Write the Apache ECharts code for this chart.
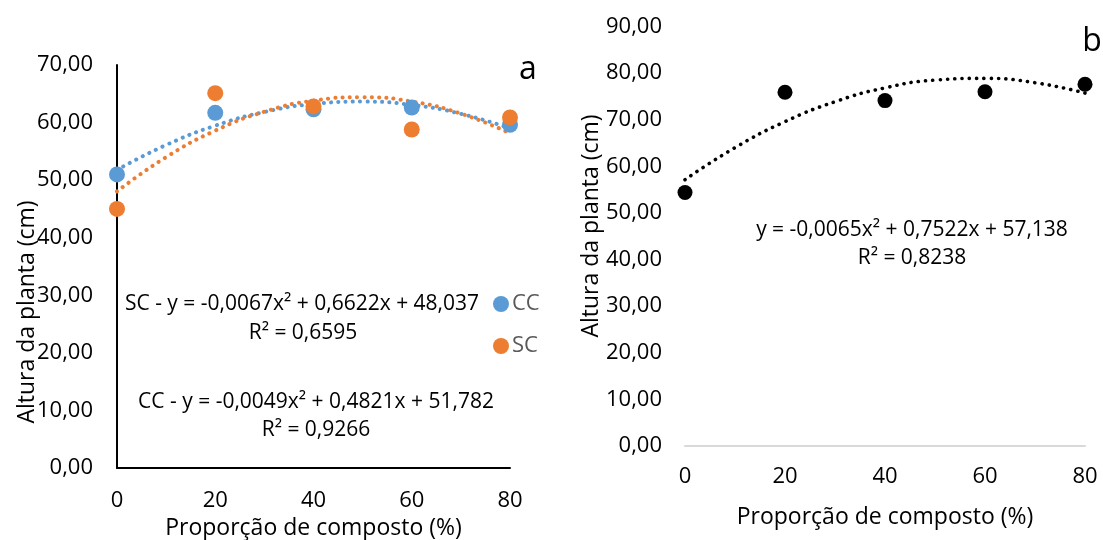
<!DOCTYPE html>
<html>
<head>
<meta charset="utf-8">
<script src="https://cdn.jsdelivr.net/npm/echarts@6/dist/echarts.min.js"></script>
<style>
html,body{margin:0;padding:0;background:#fff;}
#chart{width:1103px;height:540px;}
</style>
</head>
<body>
<div id="chart"></div>
<script>
// ---- data ----
const xCategories = [0, 20, 40, 60, 80];
const ccValues = [51.0, 61.7, 62.3, 62.6, 59.6];
const scValues = [45.0, 65.1, 62.8, 58.8, 60.9];
const bValues = [54.4, 75.9, 74.1, 76.0, 77.6];
// trend lines (polynomial fits as drawn), sampled every 10 %
const trendX = [0, 10, 20, 30, 40, 50, 60, 70, 80];
const ccTrend = [51.78, 56.11, 59.46, 61.83, 63.22, 63.64, 63.07, 61.52, 58.99];
const scTrend = [48.04, 53.99, 58.60, 61.88, 63.81, 64.40, 63.65, 61.56, 58.14];
const bTrend = [57.14, 64.01, 69.58, 73.86, 76.83, 78.50, 78.87, 77.94, 75.72];
const eqA1 = 'SC - y = -0,0067x² + 0,6622x + 48,037';
const r2A1 = 'R² = 0,6595';
const eqA2 = 'CC - y = -0,0049x² + 0,4821x + 51,782';
const r2A2 = 'R² = 0,9266';
const eqB = 'y = -0,0065x² + 0,7522x + 57,138';
const r2B = 'R² = 0,8238';
const yName = 'Altura da planta (cm)';
const xName = 'Proporção de composto (%)';

const FONT = '"Open Sans", "Noto Sans", sans-serif';
const BLUE = '#5B9BD5', ORANGE = '#ED7D31';

const pairs = (xs, ys) => xs.map((x, i) => [x, ys[i]]);
const fmt = v => v.toFixed(2).replace('.', ',');

const chart = echarts.init(document.getElementById('chart'), null, {renderer: 'canvas'});

const dotted = (color, w) => ({color: color, width: w, type: [0.1, 7.2], cap: 'round'});

chart.setOption({
  animation: false,
  textStyle: {fontFamily: FONT},
  grid: [
    {left: 117, top: 65, width: 393, height: 403, containLabel: false, outerBoundsMode: 'none'},
    {left: 685, top: 26.5, width: 400, height: 419.5, containLabel: false, outerBoundsMode: 'none'}
  ],
  xAxis: [
    {gridIndex: 0, type: 'value', min: 0, max: 80, interval: 20,
     axisLine: {show: true, onZero: false, lineStyle: {color: '#000', width: 2}},
     axisTick: {show: false}, splitLine: {show: false},
     axisLabel: {margin: 22, fontSize: 22, color: '#000', fontFamily: FONT},
     name: xName, nameLocation: 'middle', nameGap: 47,
     nameTextStyle: {fontSize: 23, color: '#000', fontFamily: FONT}},
    {gridIndex: 1, type: 'value', min: 0, max: 80, interval: 20,
     axisLine: {show: true, onZero: false, lineStyle: {color: '#D9D9D9', width: 2}},
     axisTick: {show: false}, splitLine: {show: false},
     axisLabel: {margin: 20, fontSize: 22, color: '#000', fontFamily: FONT},
     name: xName, nameLocation: 'middle', nameGap: 60,
     nameTextStyle: {fontSize: 23, color: '#000', fontFamily: FONT}}
  ],
  yAxis: [
    {gridIndex: 0, type: 'value', min: 0, max: 70, interval: 10,
     axisLine: {show: true, onZero: false, lineStyle: {color: '#000', width: 2}},
     axisTick: {show: false}, splitLine: {show: false},
     axisLabel: {margin: 24, fontSize: 22, color: '#000', fontFamily: FONT, formatter: fmt}},
    {gridIndex: 1, type: 'value', min: 0, max: 90, interval: 10,
     axisLine: {show: false}, axisTick: {show: false}, splitLine: {show: false},
     axisLabel: {margin: 23, fontSize: 22, color: '#000', fontFamily: FONT, formatter: fmt}}
  ],
  legend: {
    left: 488, top: 288, orient: 'vertical', itemGap: 20,
    itemWidth: 16, itemHeight: 16, icon: 'circle',
    textStyle: {fontSize: 22, color: '#595959', fontFamily: FONT, padding: [0, 0, 0, -2]},
    data: ['CC', 'SC']
  },
  series: [
    {name: 'CC trend', type: 'line', xAxisIndex: 0, yAxisIndex: 0, data: pairs(trendX, ccTrend),
     smooth: true, showSymbol: false, lineStyle: dotted(BLUE, 4), z: 2},
    {name: 'SC trend', type: 'line', xAxisIndex: 0, yAxisIndex: 0, data: pairs(trendX, scTrend),
     smooth: true, showSymbol: false, lineStyle: dotted(ORANGE, 4), z: 2},
    {name: 'CC', type: 'scatter', xAxisIndex: 0, yAxisIndex: 0, data: pairs(xCategories, ccValues),
     symbolSize: 16, itemStyle: {color: BLUE, opacity: 1}, z: 3},
    {name: 'SC', type: 'scatter', xAxisIndex: 0, yAxisIndex: 0, data: pairs(xCategories, scValues),
     symbolSize: 16, itemStyle: {color: ORANGE, opacity: 1}, z: 3},
    {name: 'b trend', type: 'line', xAxisIndex: 1, yAxisIndex: 1, data: pairs(trendX, bTrend),
     smooth: true, showSymbol: false, lineStyle: dotted('#000', 3.6), z: 2},
    {name: 'b', type: 'scatter', xAxisIndex: 1, yAxisIndex: 1, data: pairs(xCategories, bValues),
     symbolSize: 15, itemStyle: {color: '#000', opacity: 1}, z: 3}
  ],
  graphic: [
    {type: 'text', x: 27, y: 312, rotation: Math.PI / 2,
     style: {text: yName, fontSize: 23, fontFamily: FONT, fill: '#000', textAlign: 'center', textVerticalAlign: 'middle'}},
    {type: 'text', x: 591, y: 226, rotation: Math.PI / 2,
     style: {text: yName, fontSize: 23, fontFamily: FONT, fill: '#000', textAlign: 'center', textVerticalAlign: 'middle'}},
    {type: 'text', x: 302, y: 304, style: {text: eqA1, fontSize: 21, fontFamily: FONT, fill: '#000', textAlign: 'center', textVerticalAlign: 'middle'}},
    {type: 'text', x: 303, y: 333, style: {text: r2A1, fontSize: 21, fontFamily: FONT, fill: '#000', textAlign: 'center', textVerticalAlign: 'middle'}},
    {type: 'text', x: 316, y: 402, style: {text: eqA2, fontSize: 21, fontFamily: FONT, fill: '#000', textAlign: 'center', textVerticalAlign: 'middle'}},
    {type: 'text', x: 316, y: 430, style: {text: r2A2, fontSize: 21, fontFamily: FONT, fill: '#000', textAlign: 'center', textVerticalAlign: 'middle'}},
    {type: 'text', x: 912, y: 230, style: {text: eqB, fontSize: 21, fontFamily: FONT, fill: '#000', textAlign: 'center', textVerticalAlign: 'middle'}},
    {type: 'text', x: 912, y: 258, style: {text: r2B, fontSize: 21, fontFamily: FONT, fill: '#000', textAlign: 'center', textVerticalAlign: 'middle'}},
    {type: 'text', x: 528, y: 70, style: {text: 'a', fontSize: 32, fontFamily: FONT, fill: '#000', textAlign: 'center', textVerticalAlign: 'middle'}},
    {type: 'text', x: 1092, y: 42, style: {text: 'b', fontSize: 32, fontFamily: FONT, fill: '#000', textAlign: 'center', textVerticalAlign: 'middle'}}
  ]
});
</script>
</body>
</html>
